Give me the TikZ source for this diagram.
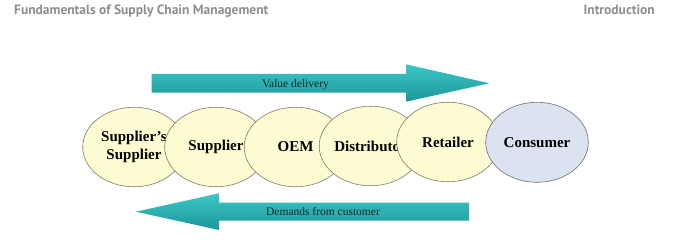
\documentclass[tikz,border=0pt]{standalone}
\usepackage{fontspec}
\setmainfont{Liberation Serif}
\newfontfamily\hdrfont{PT Sans}
\usetikzlibrary{shapes.geometric}
\definecolor{hdrgray}{HTML}{8E8E8E}
\definecolor{ellfill}{HTML}{FCFBD2}
\definecolor{ellline}{HTML}{7D7B6A}
\definecolor{consfill}{HTML}{DAE3EF}
\definecolor{consline}{HTML}{6F7078}
\definecolor{tealtop}{HTML}{3EC6C6}
\definecolor{tealbot}{HTML}{1C979A}
\definecolor{arrowtext}{HTML}{1A2626}
\begin{document}
\begin{tikzpicture}[x=1pt,y=-1pt,
  stage/.style={ellipse, draw=ellline, fill=ellfill, line width=0.6pt,
    minimum width=102.6pt, minimum height=79.5pt, inner sep=0pt,
    font=\fontsize{15}{18}\selectfont\bfseries, align=center},
  consumer/.style={stage, draw=consline, fill=consfill, minimum height=80pt},
  arrowbody/.style={top color=tealtop, bottom color=tealbot, draw=none},
  arrowlabel/.style={font=\fontsize{11.5}{13}\selectfont, text=arrowtext, inner sep=0pt},
  header/.style={font=\hdrfont\bfseries\fontsize{13.5}{15}\selectfont, text=hdrgray, inner sep=0pt}
]
\useasboundingbox (0,0) rectangle (683,240);
\fill[white] (0,0) rectangle (683,240);

% header
\node[header, anchor=base west] (title) at (14,14.5) {Fundamentals of Supply Chain Management};
\node[header, anchor=base east] (intro) at (655,14.5) {Introduction};

% top arrow: value delivery
\shade[arrowbody] (151.7,74) -- (406,74) -- (406,64.3) -- (489.3,83.3)
  -- (406,101.7) -- (406,92.7) -- (151.7,92.7) -- cycle;
\node[arrowlabel] (value) at (295.5,84.5) {Value delivery};

% stages
\node[stage] (s1) at (134,147) {Supplier’s\\Supplier};
\node[stage] (s2) at (216,147) {Supplier};
\node[stage] (s3) at (295.5,147) {OEM};
\node[stage] (s4) at (370.5,146) {Distributor};
\node[stage] (s5) at (448,142) {Retailer};
\node[consumer] (s6) at (537,142.3) {Consumer};

% bottom arrow: demands
\shade[arrowbody] (469,202.7) -- (219,202.7) -- (219,193.3) -- (136,211.7)
  -- (219,230) -- (219,220.7) -- (469,220.7) -- cycle;
\node[arrowlabel] (demand) at (323,211.7) {Demands from customer};
\end{tikzpicture}
\end{document}
